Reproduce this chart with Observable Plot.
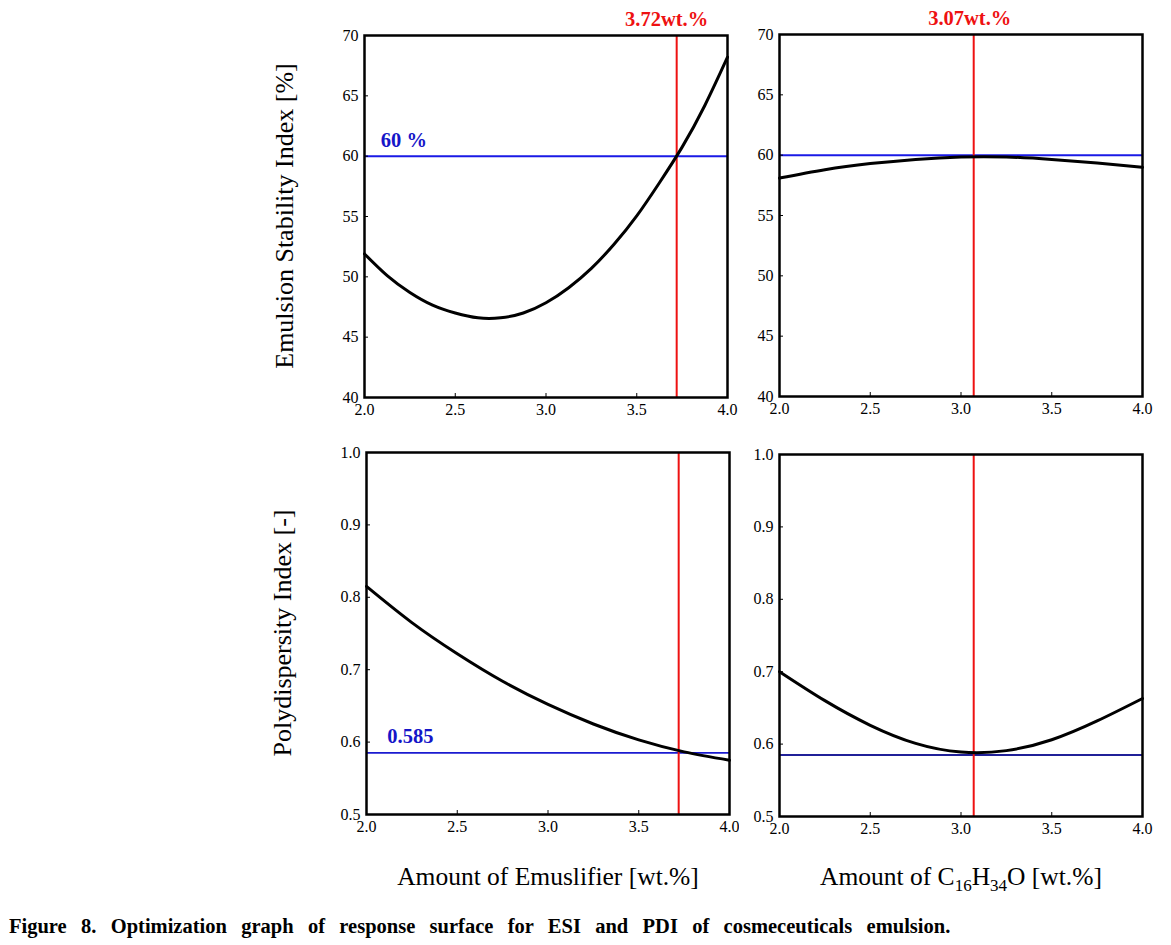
<!DOCTYPE html>
<html>
<head>
<meta charset="utf-8">
<script src="https://cdn.jsdelivr.net/npm/d3@7"></script>
<script src="https://cdn.jsdelivr.net/npm/@observablehq/plot@0.6"></script>
<style>
  html, body { margin: 0; padding: 0; background: #fff; }
  #wrap { position: relative; width: 1171px; height: 945px; font-family: "Liberation Serif", "Times New Roman", serif; }
  .panel { position: absolute; }
  .ytitle { position: absolute; font-size: 26px; white-space: nowrap; transform: translate(-50%, -50%) rotate(-90deg); color: #000; }
  .xtitle { position: absolute; font-size: 25.5px; white-space: nowrap; transform: translateX(-50%); color: #000; }
  .xtitle sub { font-size: 17px; vertical-align: -6px; line-height: 0; }
  #caption { position: absolute; left: 9px; top: 915px; font-size: 20.5px; font-weight: bold; white-space: nowrap; word-spacing: 9.2px; }
</style>
</head>
<body>
<div id="wrap">
  <div class="panel" id="p1"></div>
  <div class="panel" id="p2"></div>
  <div class="panel" id="p3"></div>
  <div class="panel" id="p4"></div>
  <div class="ytitle" style="left:285px; top:216px;">Emulsion Stability Index [%]</div>
  <div class="ytitle" style="left:283px; top:633px;">Polydispersity Index [-]</div>
  <div class="xtitle" style="left:548px; top:862px;">Amount of Emuslifier [wt.%]</div>
  <div class="xtitle" style="left:961px; top:862px;">Amount of C<sub>16</sub>H<sub>34</sub>O [wt.%]</div>
  <div id="caption">Figure 8. Optimization graph of response surface for ESI and PDI of cosmeceuticals emulsion.</div>
</div>
<script>
// ---- data ----
const xTicks = [2.0, 2.5, 3.0, 3.5, 4.0];
const esiTicks = [40, 45, 50, 55, 60, 65, 70];
const pdiTicks = [0.5, 0.6, 0.7, 0.8, 0.9, 1.0];

// ESI vs amount of emulsifier
const esiEmulX = [2.0, 2.125, 2.25, 2.375, 2.5, 2.625, 2.75, 2.875, 3.0, 3.125, 3.25, 3.375, 3.5, 3.625, 3.75, 3.875, 4.0];
const esiEmulY = [51.9, 50.1, 48.7, 47.65, 47.0, 46.6, 46.6, 47.0, 47.85, 49.1, 50.7, 52.7, 55.05, 57.8, 60.75, 64.2, 68.2];

// ESI vs amount of C16H34O
const esiCetX = [2.0, 2.25, 2.5, 2.75, 3.0, 3.25, 3.5, 3.75, 4.0];
const esiCetY = [58.1, 58.8, 59.3, 59.65, 59.85, 59.85, 59.65, 59.35, 59.0];

// PDI vs amount of emulsifier
const pdiEmulX = [2.0, 2.25, 2.5, 2.75, 3.0, 3.25, 3.5, 3.75, 4.0];
const pdiEmulY = [0.815, 0.765, 0.722, 0.684, 0.652, 0.625, 0.603, 0.5865, 0.575];

// PDI vs amount of C16H34O
const pdiCetX = [2.0, 2.25, 2.5, 2.75, 3.0, 3.25, 3.5, 3.75, 4.0];
const pdiCetY = [0.700, 0.660, 0.626, 0.601, 0.589, 0.591, 0.606, 0.632, 0.663];

// optimum settings and targets
const optEmul = 3.72;
const optCet = 3.07;
const esiTarget = 60;
const pdiTarget = 0.585;
const optEmulLabel = "3.72wt.%";
const optCetLabel = "3.07wt.%";
const esiTargetLabel = "60 %";
const pdiTargetLabel = "0.585";

// ---- drawing ----
const W = 363, H = 362;
const SERIF = "'Liberation Serif', 'Times New Roman', serif";
function panel(el, {xs, ys, yDomain, yTicks, yFmt, opt, target, targetColor, targetWidth, optLabel, optDx, targetLabel, targetLabelX, targetDy, mt, pos}) {
  const data = xs.map((x, i) => ({x, y: ys[i]}));
  const ml = 40, mr = 20, mb = 32;
  const xFmt = d3.format(".1f");
  const marks = [
    Plot.ruleY([target], {stroke: targetColor, strokeWidth: targetWidth}),
    Plot.ruleX([opt], {stroke: "#ee1111", strokeWidth: 2}),
    Plot.line(data, {x: "x", y: "y", stroke: "#000", strokeWidth: 3, curve: "natural"}),
    // inward tick marks
    Plot.axisX(xTicks, {anchor: "bottom", tickSize: 4, dy: -4, tickFormat: () => "", strokeWidth: 1}),
    Plot.axisY(yTicks, {anchor: "left", tickSize: 4, dx: 4, tickFormat: () => "", strokeWidth: 1}),
    // tick labels
    Plot.text(xTicks, {x: d => d, frameAnchor: "bottom", lineAnchor: "top", dy: 6, text: d => xFmt(d),
      fontSize: 16, fontFamily: SERIF, fill: "#000"}),
    Plot.text(yTicks, {y: d => d, frameAnchor: "left", textAnchor: "end", dx: -6, text: d => yFmt(d),
      fontSize: 16, fontFamily: SERIF, fill: "#000"}),
    Plot.frame({stroke: "#000", strokeWidth: 2.5})
  ];
  if (optLabel) {
    marks.push(Plot.text([opt], {x: d => d, frameAnchor: "top", dy: -24, dx: optDx, text: () => optLabel,
      fill: "#ee1111", fontWeight: "bold", fontSize: 20.5, fontFamily: SERIF}));
  }
  if (targetLabel) {
    marks.push(Plot.text([target], {x: () => targetLabelX, y: d => d, dy: targetDy, text: () => targetLabel,
      textAnchor: "start", fill: "#1515c8", fontWeight: "bold", fontSize: 20.5, fontFamily: SERIF}));
  }
  const svg = Plot.plot({
    width: ml + W + mr, height: mt + H + mb,
    marginLeft: ml, marginRight: mr, marginTop: mt, marginBottom: mb,
    style: {fontFamily: SERIF, fontSize: "16px", background: "#fff", color: "#000"},
    x: {domain: [2, 4], label: null},
    y: {domain: yDomain, label: null},
    marks
  });
  el.appendChild(svg);
  el.style.left = pos[0] + "px";
  el.style.top = pos[1] + "px";
}

panel(document.getElementById("p1"), {xs: esiEmulX, ys: esiEmulY, yDomain: [40, 70], yTicks: esiTicks, yFmt: d3.format("d"),
  opt: optEmul, target: esiTarget, targetColor: "#1a1ae6", targetWidth: 2, optLabel: optEmulLabel, optDx: -10,
  targetLabel: esiTargetLabel, targetLabelX: 2.09, targetDy: -16, mt: 35, pos: [324, 0]});
panel(document.getElementById("p2"), {xs: esiCetX, ys: esiCetY, yDomain: [40, 70], yTicks: esiTicks, yFmt: d3.format("d"),
  opt: optCet, target: esiTarget, targetColor: "#1a1ae6", targetWidth: 2, optLabel: optCetLabel, optDx: -4,
  targetLabel: null, mt: 34, pos: [739, 0]});
panel(document.getElementById("p3"), {xs: pdiEmulX, ys: pdiEmulY, yDomain: [0.5, 1.0], yTicks: pdiTicks, yFmt: d3.format(".1f"),
  opt: optEmul, target: pdiTarget, targetColor: "#1a1ad0", targetWidth: 1.8, optLabel: null,
  targetLabel: pdiTargetLabel, targetLabelX: 2.115, targetDy: -17, mt: 20, pos: [326, 432]});
panel(document.getElementById("p4"), {xs: pdiCetX, ys: pdiCetY, yDomain: [0.5, 1.0], yTicks: pdiTicks, yFmt: d3.format(".1f"),
  opt: optCet, target: pdiTarget, targetColor: "#202098", targetWidth: 2, optLabel: null,
  targetLabel: null, mt: 20, pos: [739, 434]});
</script>
</body>
</html>
